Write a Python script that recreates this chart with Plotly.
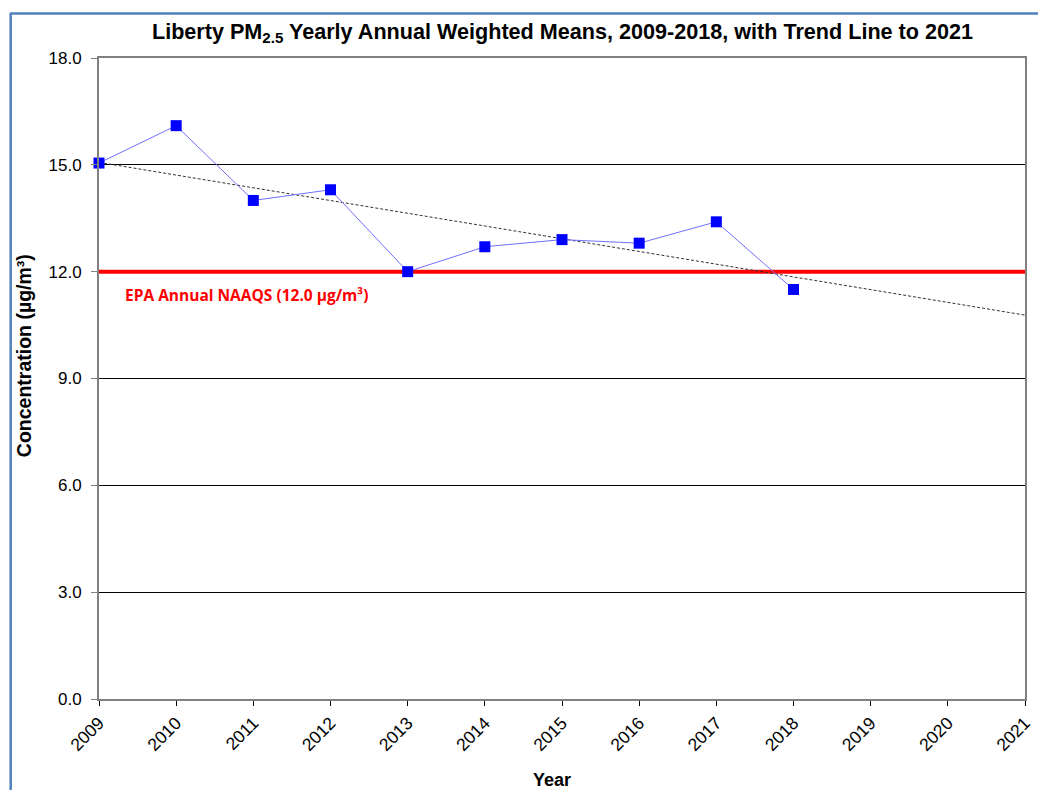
import plotly.graph_objects as go

years = [2009, 2010, 2011, 2012, 2013, 2014, 2015, 2016, 2017, 2018]
means = [15.05, 16.1, 14.0, 14.3, 12.0, 12.7, 12.9, 12.8, 13.4, 11.5]
trend_years = [2009, 2021]
trend_vals = [15.07, 10.78]
naaqs_years = [2009, 2021]
naaqs_vals = [12.0, 12.0]
y_ticks = [0, 3, 6, 9, 12, 15, 18]
y_tick_labels = ["0.0", "3.0", "6.0", "9.0", "12.0", "15.0", "18.0"]
x_ticks = list(range(2009, 2022))

# page is offset by the 8px body margin
OFF = 8
PL, PR, PT, PB = 99, 1027, 58, 699   # plot area in window pixels
PW, PH = PR - PL, PB - PT

def px(xw):
    return (xw - PL) / PW

def py(yw):
    return (PB - yw) / PH

fig = go.Figure()

fig.add_trace(go.Scatter(
    x=naaqs_years, y=naaqs_vals, mode="lines",
    line=dict(color="#FF0000", width=4), hoverinfo="skip", showlegend=False,
))
fig.add_trace(go.Scatter(
    x=trend_years, y=trend_vals, mode="lines",
    line=dict(color="#333333", width=1, dash="3px,2px"), showlegend=False,
))
fig.add_trace(go.Scatter(
    x=years, y=means, mode="lines+markers",
    line=dict(color="#7070FF", width=1),
    marker=dict(symbol="square", size=11, color="#0000FF"),
    showlegend=False, cliponaxis=False,
))

W, H = 1046 - OFF, 790 - OFF
border = dict(color="#4F81BD", width=2.5)
fig.update_layout(
    width=W, height=H,
    margin=dict(l=PL - OFF, r=1046 - PR, t=PT - OFF, b=790 - PB),
    paper_bgcolor="white", plot_bgcolor="white",
    font=dict(family="Liberation Sans, Arial", color="black"),
    title=dict(
        text="<b>Liberty PM<sub>2.5</sub> Yearly Annual Weighted Means, 2009-2018, with Trend Line to 2021</b>",
        x=(562.5 - OFF) / W, xanchor="center", y=1 - (31 - OFF) / H, yanchor="middle",
        font=dict(size=21.6, family="Liberation Sans, Arial", color="black"),
    ),
    xaxis=dict(
        range=[2009, 2021], tickvals=x_ticks, ticktext=[str(v) for v in x_ticks],
        tickangle=-45, ticks="outside", ticklen=5, tickcolor="#000000",
        showline=True, linecolor="#808080", linewidth=2, mirror=True,
        showgrid=False, zeroline=False,
        tickfont=dict(size=17.5, family="Liberation Sans, Arial"),
    ),
    yaxis=dict(
        range=[0, 18], tickvals=y_ticks, ticktext=y_tick_labels,
        ticks="outside", ticklen=6, tickcolor="#808080", ticklabelstandoff=6,
        showline=True, linecolor="#808080", linewidth=2, mirror=True,
        showgrid=True, gridcolor="#000000", gridwidth=1, zeroline=False,
        tickfont=dict(size=17, family="Liberation Sans, Arial"),
    ),
    shapes=[
        dict(type="line", xref="paper", yref="paper", layer="above",
             x0=px(10), x1=px(1046), y0=py(13.5), y1=py(13.5), line=border),
        dict(type="line", xref="paper", yref="paper", layer="above",
             x0=px(10.5), x1=px(10.5), y0=py(13), y1=py(800), line=border),
    ],
    annotations=[
        dict(text="<b>EPA Annual NAAQS (12.0 µg/m³)</b>", x=2009 + (123 - PL) / PW * 12, y=11.35,
             xref="x", yref="y", xanchor="left", yanchor="middle", showarrow=False,
             font=dict(size=15.5, color="#FF0000", family="Open Sans, Lato")),
        dict(text="<b>Concentration (µg/m³)</b>", x=px(24), y=py(356),
             xref="paper", yref="paper", textangle=-90, showarrow=False,
             xanchor="center", yanchor="middle",
             font=dict(size=19.5, family="Liberation Sans, Arial")),
        dict(text="<b>Year</b>", x=px(553), y=py(780),
             xref="paper", yref="paper", showarrow=False,
             xanchor="center", yanchor="middle",
             font=dict(size=18, family="Liberation Sans, Arial")),
    ],
)

fig.write_html("out.html")
